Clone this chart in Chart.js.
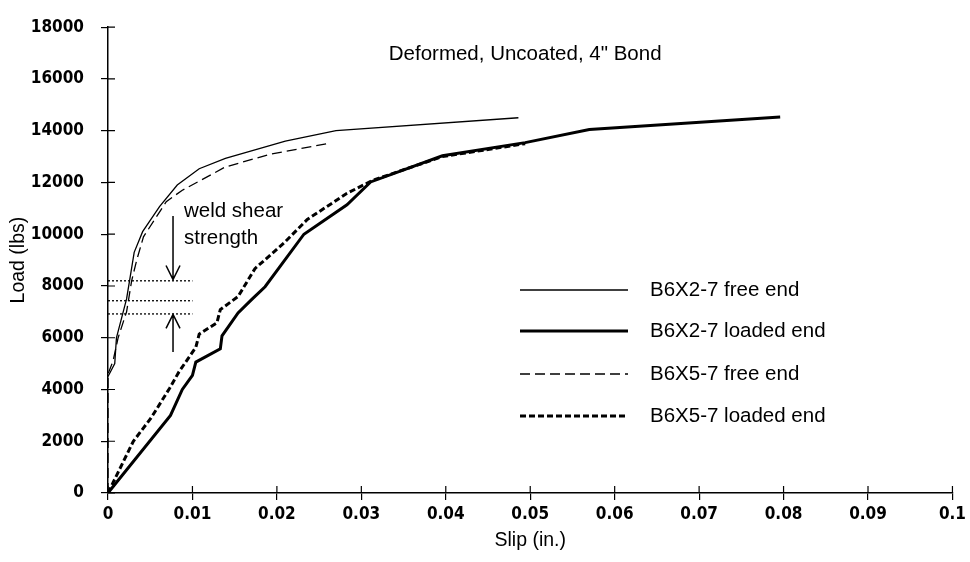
<!DOCTYPE html>
<html>
<head>
<meta charset="utf-8">
<script src="https://cdn.jsdelivr.net/npm/chart.js@4/dist/chart.umd.min.js"></script>
<style>
  html, body { margin: 0; padding: 0; background: #fff; }
  canvas { display: block; }
</style>
</head>
<body>
<canvas id="chart" width="970" height="562"></canvas>
<script>
// axis ticks
const xTickLabels = ['0', '0.01', '0.02', '0.03', '0.04', '0.05', '0.06', '0.07', '0.08', '0.09', '0.1'];
const yTickLabels = ['0', '2000', '4000', '6000', '8000', '10000', '12000', '14000', '16000', '18000'];

// B6X2-7 free end
const free2Slip = [0, 0.0008, 0.001, 0.0018, 0.0022, 0.0027, 0.0031, 0.0041, 0.0061, 0.0082, 0.0108, 0.0139, 0.021, 0.027, 0.0486];
const free2Load = [4500, 5000, 6000, 7000, 7500, 8500, 9300, 10100, 11070, 11900, 12530, 12930, 13600, 14000, 14500];

// B6X2-7 loaded end
const load2Slip = [0, 0.0074, 0.0088, 0.01, 0.0104, 0.0133, 0.0135, 0.0154, 0.017, 0.0186, 0.0232, 0.0283, 0.0311, 0.0396, 0.0494, 0.057, 0.0796];
const load2Load = [0, 3000, 4000, 4550, 5060, 5570, 6075, 6960, 7470, 7970, 10000, 11140, 12020, 13030, 13540, 14050, 14530];

// B6X5-7 free end
const free5Slip = [0, 0, 0.0006, 0.0012, 0.0022, 0.0028, 0.0034, 0.0042, 0.0069, 0.0088, 0.0139, 0.0193, 0.026];
const free5Load = [0, 4600, 5100, 6000, 7000, 8200, 9000, 9900, 11260, 11700, 12600, 13100, 13500];

// B6X5-7 loaded end
const load5Slip = [0, 0.003, 0.0051, 0.0073, 0.0084, 0.0104, 0.0108, 0.0129, 0.0133, 0.0154, 0.0174, 0.0209, 0.0236, 0.0283, 0.0314, 0.0396, 0.0494];
const load5Load = [0, 2000, 2900, 4050, 4680, 5630, 6140, 6580, 7090, 7590, 8670, 9680, 10570, 11580, 12090, 13000, 13500];

// weld shear strength band
const weldLevels = [8200, 7430, 6920];
const weldSlip = [0, 0.01];
const arrowSlip = 0.0077;
const arrowDown = [10700, 8250];
const arrowUp = [5450, 6900];

const seriesNames = ['B6X2-7 free end', 'B6X2-7 loaded end', 'B6X5-7 free end', 'B6X5-7 loaded end'];

const pts = (xs, ys) => xs.map((x, i) => ({ x, y: ys[i] }));

const styles = [
  { borderWidth: 1.3, borderDash: [] },
  { borderWidth: 3, borderDash: [] },
  { borderWidth: 1.3, borderDash: [10, 5] },
  { borderWidth: 3, borderDash: [6, 3] }
];

const datasets = [
  pts(free2Slip, free2Load), pts(load2Slip, load2Load), pts(free5Slip, free5Load), pts(load5Slip, load5Load)
].map((data, i) => ({
  label: seriesNames[i], data, borderColor: '#000', backgroundColor: '#000',
  borderWidth: styles[i].borderWidth, borderDash: styles[i].borderDash,
  pointRadius: 0, tension: 0, fill: false
}));

weldLevels.forEach(v => datasets.push({
  label: 'weld', data: weldSlip.map(x => ({ x, y: v })),
  borderColor: '#000', borderWidth: 1.3, borderDash: [2, 2], pointRadius: 0, fill: false
}));

const overlay = {
  id: 'overlay',
  afterDraw(chart) {
    const { ctx, chartArea: a, scales: { x, y } } = chart;
    ctx.save();
    ctx.strokeStyle = '#000';
    ctx.fillStyle = '#000';

    // inner half of the tick marks
    ctx.lineWidth = 1.2;
    ctx.beginPath();
    y.ticks.forEach(t => { const py = y.getPixelForValue(t.value); ctx.moveTo(a.left, py); ctx.lineTo(a.left + 7, py); });
    x.ticks.forEach(t => { const px = x.getPixelForValue(t.value); ctx.moveTo(px, a.bottom); ctx.lineTo(px, a.bottom - 7); });
    ctx.stroke();

    // arrows
    const arrow = (from, to) => {
      const px = x.getPixelForValue(arrowSlip);
      const p0 = y.getPixelForValue(from), p1 = y.getPixelForValue(to);
      const d = Math.sign(p1 - p0);
      ctx.lineWidth = 1.5;
      ctx.beginPath();
      ctx.moveTo(px, p0); ctx.lineTo(px, p1);
      ctx.moveTo(px - 7, p1 - d * 14); ctx.lineTo(px, p1); ctx.lineTo(px + 7, p1 - d * 14);
      ctx.stroke();
    };
    arrow(arrowDown[0], arrowDown[1]);
    arrow(arrowUp[0], arrowUp[1]);

    // texts
    ctx.font = '20.5px "Liberation Sans", Arial, sans-serif';
    ctx.textBaseline = 'middle';
    ctx.textAlign = 'center';
    ctx.fillText('Deformed, Uncoated, 4" Bond', x.getPixelForValue(0.0494), y.getPixelForValue(16950));
    ctx.textAlign = 'left';
    ctx.fillText('weld shear', x.getPixelForValue(0.009), y.getPixelForValue(10900));
    ctx.fillText('strength', x.getPixelForValue(0.009), y.getPixelForValue(9850));

    // legend
    const rows = [290, 331, 374, 416];
    seriesNames.forEach((name, i) => {
      ctx.lineWidth = styles[i].borderWidth;
      ctx.setLineDash(styles[i].borderDash);
      ctx.beginPath();
      ctx.moveTo(520, rows[i]); ctx.lineTo(628, rows[i]);
      ctx.stroke();
      ctx.setLineDash([]);
      ctx.fillText(name, 650, rows[i]);
    });
    ctx.restore();
  }
};

const tickFont = { family: '"DejaVu Sans Condensed", "DejaVu Sans", sans-serif', size: 17, weight: 'bold' };
const titleFont = { family: '"Liberation Sans", Arial, sans-serif', size: 19.5 };

new Chart(document.getElementById('chart'), {
  type: 'line',
  data: { datasets },
  options: {
    responsive: false, animation: false, devicePixelRatio: 1,
    layout: { padding: { top: 19, right: 12, left: 0, bottom: 0 } },
    plugins: { legend: { display: false }, tooltip: { enabled: false } },
    scales: {
      x: {
        type: 'linear', min: 0, max: 0.1,
        afterFit: s => { s.height = 69; },
        ticks: { stepSize: 0.01, color: '#000', font: tickFont, padding: 4, maxRotation: 0, callback: (v, i) => xTickLabels[i] },
        grid: { display: true, drawOnChartArea: false, color: '#000', tickLength: 7, lineWidth: 1.2 },
        border: { display: true, color: '#000', width: 1.5 },
        title: { display: true, text: 'Slip (in.)', color: '#000', font: titleFont, padding: { top: 0, bottom: 10 } }
      },
      y: {
        min: 0, max: 18000,
        afterFit: s => { s.width = 108; },
        ticks: { stepSize: 2000, color: '#000', font: tickFont, padding: 17, callback: (v, i) => yTickLabels[i] },
        grid: { display: true, drawOnChartArea: false, color: '#000', tickLength: 7, lineWidth: 1.2 },
        border: { display: true, color: '#000', width: 1.5 },
        title: { display: true, text: 'Load (lbs)', color: '#000', font: titleFont, padding: { top: 7, bottom: 0 } }
      }
    }
  },
  plugins: [overlay]
});
</script>
</body>
</html>
